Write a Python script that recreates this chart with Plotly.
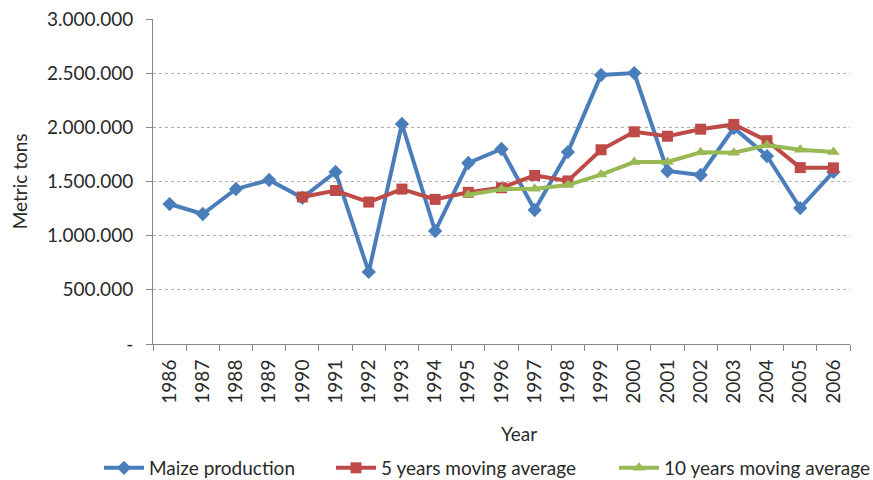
import plotly.graph_objects as go

years = [str(y) for y in range(1986, 2007)]

maize_production = [1292000, 1200000, 1431000, 1514000, 1350000, 1588000, 665000,
                    2031000, 1043000, 1671000, 1800000, 1237000, 1772000, 2483000,
                    2501000, 1597000, 1560000, 1994000, 1735000, 1255000, 1588000]

ma5_years = years[4:]
ma5_values = [1357000, 1417000, 1310000, 1430000, 1335000, 1400000, 1442000,
              1556000, 1505000, 1793000, 1959000, 1918000, 1983000, 2027000,
              1877000, 1628000, 1626000]

ma10_years = years[9:]
ma10_values = [1378000, 1429000, 1433000, 1467000, 1564000, 1679000, 1680000,
               1770000, 1766000, 1835000, 1793000, 1772000]

y_tick_vals = [0, 500000, 1000000, 1500000, 2000000, 2500000, 3000000]
y_tick_text = ["-", "500.000", "1.000.000", "1.500.000", "2.000.000",
               "2.500.000", "3.000.000"]

FONT = "Lato, Calibri, Carlito, sans-serif"
TXT = "#2a2a2a"
AXIS = "#868686"

fig = go.Figure()
fig.add_trace(go.Scatter(
    x=years, y=maize_production, name="Maize production", mode="lines+markers",
    line=dict(color="#4A7EBB", width=4),
    marker=dict(symbol="diamond", size=11, color="#4A7EBB"),
    legend="legend",
))
fig.add_trace(go.Scatter(
    x=ma5_years, y=ma5_values, name="5 years moving average", mode="lines+markers",
    line=dict(color="#BE4B48", width=4),
    marker=dict(symbol="square", size=11, color="#BE4B48"),
    legend="legend2",
))
fig.add_trace(go.Scatter(
    x=ma10_years, y=ma10_values, name="10 years moving average", mode="lines+markers",
    line=dict(color="#98B954", width=4),
    marker=dict(symbol="triangle-up", size=11, color="#98B954"),
    legend="legend3",
))


def legend_box(x_px):
    # one single-entry legend per series, placed along the bottom of the figure
    return dict(orientation="h", xref="container", yref="container",
                x=x_px / 873, xanchor="left", y=0.025, yanchor="middle",
                font=dict(family=FONT, size=19, color=TXT),
                itemwidth=40, bgcolor="rgba(0,0,0,0)", borderwidth=0)


fig.update_layout(
    width=873, height=480,
    margin=dict(l=153, r=23, t=19, b=136, autoexpand=False),
    paper_bgcolor="white", plot_bgcolor="white",
    font=dict(family=FONT, size=19, color=TXT),
    showlegend=True,
    legend=legend_box(99),
    legend2=legend_box(331),
    legend3=legend_box(614),
    annotations=[
        dict(text="Year", xref="paper", yref="paper", x=0.525, y=-0.275,
             xanchor="center", yanchor="middle", showarrow=False,
             font=dict(family=FONT, size=19, color=TXT)),
        dict(text="Metric tons", xref="paper", yref="paper", x=-0.191, y=0.5,
             xanchor="center", yanchor="middle", showarrow=False, textangle=-90,
             font=dict(family=FONT, size=19, color=TXT)),
    ],
)
fig.update_xaxes(
    type="category", categoryorder="array", categoryarray=years,
    range=[-0.5, len(years) - 0.5], autorange=False,
    tickangle=-90, tickson="boundaries", ticks="outside", ticklen=6,
    ticklabelstandoff=7,
    tickcolor=AXIS, showline=True, linecolor=AXIS, linewidth=1,
    showgrid=False, automargin=False,
    tickfont=dict(family=FONT, size=19, color=TXT),
)
fig.update_yaxes(
    range=[0, 3000000], tickvals=y_tick_vals, ticktext=y_tick_text,
    ticks="outside", ticklen=6, tickcolor=AXIS, ticklabelstandoff=9,
    showline=True, linecolor=AXIS, linewidth=1,
    showgrid=True, gridcolor="#B0B0B0", griddash="dot", gridwidth=1,
    zeroline=False, automargin=False,
    tickfont=dict(family=FONT, size=19, color=TXT),
)

fig.write_html("out.html")
